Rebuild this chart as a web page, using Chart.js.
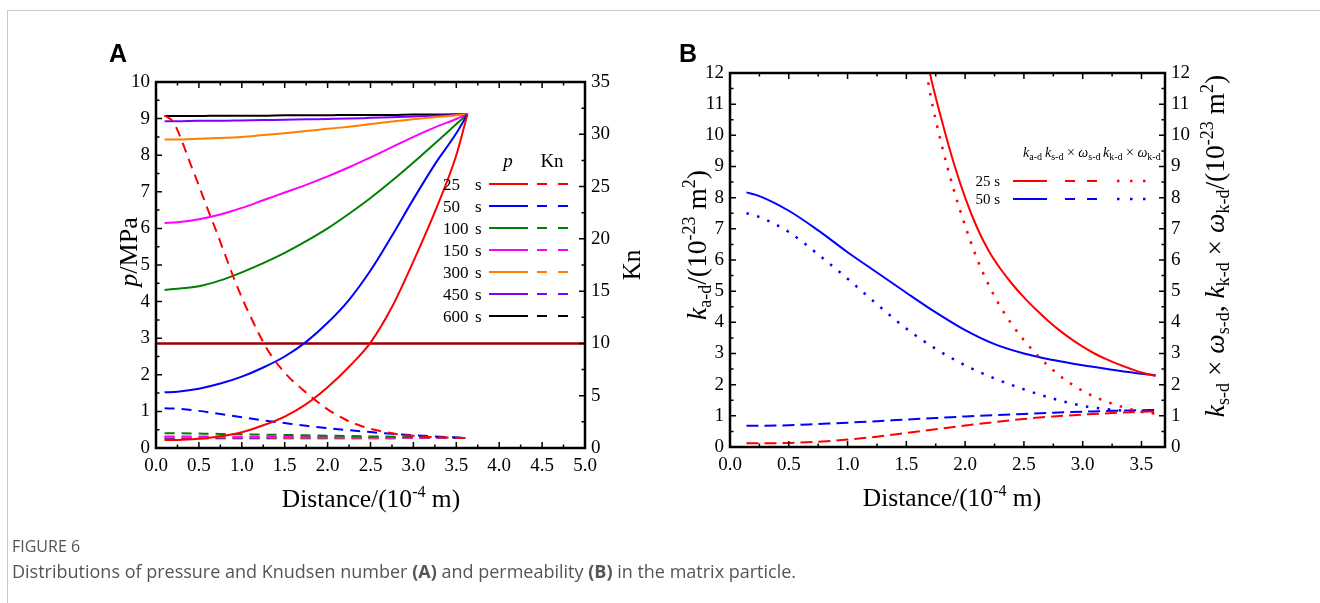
<!DOCTYPE html>
<html>
<head>
<meta charset="utf-8">
<script src="https://cdn.jsdelivr.net/npm/chart.js@4.4.0/dist/chart.umd.min.js"></script>
<style>
body { margin: 0; background: #fff; }
#page { position: relative; width: 1320px; height: 603px; overflow: hidden; background: #fff; }
#frame { position: absolute; left: 7px; top: 10px; width: 1320px; height: 600px; border-left: 1px solid #c8c8c8; border-top: 1px solid #c8c8c8; }
canvas { position: absolute; }
#chartA { left: 90px; top: 60px; }
#chartB { left: 660px; top: 50px; }
svg { position: absolute; left: 0; top: 0; }
.fig { position: absolute; left: 12px; font-family: "Open Sans", sans-serif; color: #555; white-space: nowrap; }
#figTitle { top: 535px; font-size: 16px; }
#figText { top: 559px; font-size: 18px; }
</style>
</head>
<body>
<div id="page">
  <div id="frame"></div>
  <canvas id="chartA" width="570" height="460"></canvas>
  <canvas id="chartB" width="590" height="470"></canvas>

  <svg width="1320" height="603" font-family="Liberation Serif" fill="#000">
    <text x="109" y="62" font-family="Liberation Sans" font-weight="bold" font-size="25">A</text>
    <text x="679" y="62" font-family="Liberation Sans" font-weight="bold" font-size="25">B</text>

    <!-- panel A titles -->
    <text x="371" y="507" text-anchor="middle" font-size="25.5">Distance/(10<tspan dy="-10" font-size="16">-4</tspan><tspan dy="10"> m)</tspan></text>
    <text transform="translate(137,252) rotate(-90)" text-anchor="middle" font-size="26"><tspan font-style="italic">p</tspan>/MPa</text>
    <text transform="translate(640,265) rotate(-90)" text-anchor="middle" font-size="25">Kn</text>

    <!-- panel A legend -->
    <g font-size="17">
      <text x="508" y="167" text-anchor="middle" font-size="19" font-style="italic">p</text>
      <text x="552" y="167" text-anchor="middle" font-size="19">Kn</text>
      <g id="legendA"></g>
    </g>

    <!-- panel B titles -->
    <text x="952" y="506" text-anchor="middle" font-size="25.5">Distance/(10<tspan dy="-10" font-size="16">-4</tspan><tspan dy="10"> m)</tspan></text>
    <text transform="translate(706,245) rotate(-90)" text-anchor="middle" font-size="27.5"><tspan font-style="italic">k</tspan><tspan font-size="18" dy="5">a-d</tspan><tspan dy="-5">/(10</tspan><tspan font-size="18" dy="-11">-23</tspan><tspan dy="11"> m</tspan><tspan font-size="18" dy="-11">2</tspan><tspan dy="11">)</tspan></text>
    <text transform="translate(1224,246) rotate(-90)" text-anchor="middle" font-size="27.5"><tspan font-style="italic">k</tspan><tspan font-size="18" dy="5">s-d</tspan><tspan dy="-5"> × </tspan><tspan font-style="italic">ω</tspan><tspan font-size="18" dy="5">s-d</tspan><tspan dy="-5">, </tspan><tspan font-style="italic">k</tspan><tspan font-size="18" dy="5">k-d</tspan><tspan dy="-5"> × </tspan><tspan font-style="italic">ω</tspan><tspan font-size="18" dy="5">k-d</tspan><tspan dy="-5">/(10</tspan><tspan font-size="18" dy="-11">-23</tspan><tspan dy="11"> m</tspan><tspan font-size="18" dy="-11">2</tspan><tspan dy="11">)</tspan></text>

    <!-- panel B legend -->
    <text x="1023" y="157" font-size="14"><tspan font-style="italic">k</tspan><tspan font-size="10" dy="3">a-d</tspan><tspan x="1045" dy="-3" font-style="italic">k</tspan><tspan font-size="10" dy="3">s-d</tspan><tspan dy="-3"> × </tspan><tspan font-style="italic">ω</tspan><tspan font-size="10" dy="3">s-d</tspan><tspan x="1103" dy="-3" font-style="italic">k</tspan><tspan font-size="10" dy="3">k-d</tspan><tspan dy="-3"> × </tspan><tspan font-style="italic">ω</tspan><tspan font-size="10" dy="3">k-d</tspan></text>
    <g id="legendB" font-size="15"></g>
  </svg>

  <div class="fig" id="figTitle">FIGURE 6</div>
  <div class="fig" id="figText">Distributions of pressure and Knudsen number <b>(A)</b> and permeability <b>(B)</b> in the matrix particle.</div>
</div>

<script>
// ---- panel A data (distance in 10^-4 m) ----
const distanceA = [0.1, 0.25, 0.5, 0.75, 1.0, 1.25, 1.5, 1.75, 2.0, 2.25, 2.5, 2.75, 3.0, 3.25, 3.5, 3.63];
const times = ['25', '50', '100', '150', '300', '450', '600'];

// pressure, MPa
const pressure25 = [0.22, 0.22, 0.25, 0.32, 0.43, 0.62, 0.86, 1.2, 1.66, 2.22, 2.88, 3.85, 5.1, 6.45, 8.0, 9.12];
const pressure50 = [1.52, 1.54, 1.62, 1.76, 1.95, 2.2, 2.5, 2.9, 3.42, 4.05, 4.85, 5.8, 6.8, 7.75, 8.6, 9.12];
const pressure100 = [4.32, 4.35, 4.42, 4.58, 4.8, 5.05, 5.33, 5.65, 6.0, 6.4, 6.83, 7.3, 7.8, 8.32, 8.85, 9.12];
const pressure150 = [6.15, 6.17, 6.25, 6.38, 6.56, 6.77, 6.98, 7.19, 7.42, 7.67, 7.94, 8.22, 8.5, 8.76, 8.99, 9.12];
const pressure300 = [8.43, 8.43, 8.45, 8.47, 8.5, 8.55, 8.6, 8.66, 8.72, 8.78, 8.85, 8.92, 8.98, 9.04, 9.09, 9.12];
const pressure450 = [8.93, 8.93, 8.94, 8.94, 8.95, 8.96, 8.97, 8.98, 8.99, 9.0, 9.02, 9.04, 9.06, 9.08, 9.1, 9.12];
const pressure600 = [9.07, 9.07, 9.07, 9.08, 9.08, 9.08, 9.09, 9.09, 9.09, 9.1, 9.1, 9.1, 9.11, 9.11, 9.12, 9.12];

// Knudsen number
const distanceKn25 = [0.1, 0.2, 0.3, 0.4, 0.5, 0.6, 0.7, 0.8, 0.9, 1.0, 1.1, 1.2, 1.3, 1.4, 1.5, 1.6, 1.7, 1.8, 1.9, 2.0, 2.2, 2.4, 2.6, 2.8, 3.0, 3.2, 3.4, 3.63];
const kn25 = [31.8, 31.2, 29.4, 27.2, 25.1, 22.9, 20.8, 18.6, 16.4, 14.4, 12.6, 10.9, 9.4, 8.2, 7.2, 6.35, 5.65, 4.95, 4.3, 3.7, 2.75, 2.08, 1.65, 1.34, 1.16, 1.06, 1.0, 0.95];
const kn50 = [3.8, 3.75, 3.55, 3.25, 2.95, 2.65, 2.38, 2.12, 1.9, 1.7, 1.52, 1.36, 1.22, 1.1, 1.0, 0.95];
const kn100 = [1.42, 1.41, 1.38, 1.35, 1.32, 1.28, 1.25, 1.21, 1.18, 1.14, 1.11, 1.08, 1.05, 1.02, 0.98, 0.95];
const kn150 = [1.1, 1.1, 1.09, 1.09, 1.08, 1.07, 1.06, 1.05, 1.04, 1.03, 1.02, 1.0, 0.99, 0.98, 0.96, 0.95];
const kn300 = [1.03, 1.03, 1.03, 1.02, 1.02, 1.02, 1.01, 1.01, 1.0, 1.0, 0.99, 0.98, 0.98, 0.97, 0.96, 0.95];
const kn450 = [0.98, 0.98, 0.98, 0.98, 0.98, 0.97, 0.97, 0.97, 0.97, 0.97, 0.96, 0.96, 0.96, 0.96, 0.95, 0.95];
const kn600 = [0.93, 0.93, 0.93, 0.93, 0.93, 0.93, 0.94, 0.94, 0.94, 0.94, 0.94, 0.94, 0.95, 0.95, 0.95, 0.95];
const knLimit = 10;

// ---- panel B data, permeability 10^-23 m^2 ----
const distanceB = [0.14, 0.25, 0.5, 0.75, 1.0, 1.25, 1.5, 1.75, 2.0, 2.25, 2.5, 2.75, 3.0, 3.25, 3.5, 3.62];
const kApp50 = [8.17, 8.05, 7.58, 6.95, 6.25, 5.6, 4.95, 4.32, 3.75, 3.3, 3.0, 2.79, 2.62, 2.48, 2.35, 2.3];
const kSlip50 = [0.68, 0.68, 0.7, 0.74, 0.78, 0.83, 0.88, 0.93, 0.98, 1.02, 1.06, 1.1, 1.13, 1.16, 1.18, 1.19];
const kKnud50 = [7.5, 7.38, 6.9, 6.18, 5.4, 4.58, 3.8, 3.15, 2.62, 2.2, 1.85, 1.55, 1.32, 1.2, 1.13, 1.1];
const kSlip25 = [0.12, 0.12, 0.13, 0.17, 0.24, 0.33, 0.45, 0.57, 0.69, 0.8, 0.9, 0.98, 1.04, 1.09, 1.13, 1.15];
const distanceB25 = [1.6, 1.7, 1.8, 1.9, 2.0, 2.1, 2.2, 2.3, 2.4, 2.5, 2.6, 2.7, 2.8, 2.9, 3.0, 3.1, 3.2, 3.3, 3.4, 3.5, 3.62];
const kApp25 = [14.0, 12.0, 10.5, 9.15, 8.0, 7.05, 6.3, 5.72, 5.23, 4.8, 4.42, 4.07, 3.75, 3.47, 3.22, 3.0, 2.82, 2.66, 2.52, 2.39, 2.28];
const kKnud25 = [13.8, 11.4, 9.7, 8.3, 7.1, 6.05, 5.2, 4.5, 3.92, 3.43, 3.0, 2.63, 2.3, 2.03, 1.8, 1.61, 1.46, 1.33, 1.22, 1.13, 1.07];

const colors = ['#ff0000', '#0000ff', '#008000', '#ff00ff', '#ff8000', '#8000ff', '#000000'];

function pts(xs, ys) {
    return xs.map((x, i) => ({ x: x, y: ys[i] }));
}

// frame box and inward tick marks on all four sides
const frameTicks = {
    id: 'frameTicks',
    afterDatasetsDraw(chart, args, opts) {
        const ctx = chart.ctx;
        const a = chart.chartArea;
        ctx.save();
        ctx.strokeStyle = '#000';
        ctx.lineWidth = 1.5;
        for (const m of opts.marks) {
            const s = chart.scales[m.scale];
            const n = Math.floor((s.max - s.min) / m.minor + 1e-9);
            const every = Math.round(m.major / m.minor);
            ctx.beginPath();
            for (let i = 0; i <= n; i++) {
                const p = s.getPixelForValue(s.min + i * m.minor);
                const len = i % every === 0 ? 6 : 3.5;
                for (const e of m.edges) {
                    if (e === 'bottom') { ctx.moveTo(p, a.bottom); ctx.lineTo(p, a.bottom - len); }
                    if (e === 'top') { ctx.moveTo(p, a.top); ctx.lineTo(p, a.top + len); }
                    if (e === 'left') { ctx.moveTo(a.left, p); ctx.lineTo(a.left + len, p); }
                    if (e === 'right') { ctx.moveTo(a.right, p); ctx.lineTo(a.right - len, p); }
                }
            }
            ctx.stroke();
        }
        ctx.lineWidth = 2.5;
        ctx.strokeRect(a.left, a.top, a.right - a.left, a.bottom - a.top);
        ctx.restore();
    }
};

Chart.defaults.font.family = 'Liberation Serif';
Chart.defaults.color = '#000';

function axis(opts) {
    return Object.assign({
        type: 'linear',
        grid: { display: false, drawTicks: false },
        border: { display: false }
    }, opts);
}

function tickOpts(step, padding, fmt) {
    let t = { font: { size: 19 }, color: '#000', padding: padding, stepSize: step, includeBounds: false };
    if (fmt) t.callback = fmt;
    return t;
}

function line(label, data, color, yAxisID, dash, width) {
    return {
        label: label,
        data: data,
        borderColor: color,
        borderWidth: width || 2,
        borderDash: dash || [],
        pointRadius: 0,
        cubicInterpolationMode: 'monotone',
        yAxisID: yAxisID
    };
}

function initPanelA() {
    const pressure = [pressure25, pressure50, pressure100, pressure150, pressure300, pressure450, pressure600];
    const kn = [null, kn50, kn100, kn150, kn300, kn450, kn600];
    let datasets = [];
    for (let i = 0; i < times.length; i++) {
        datasets.push(line(times[i] + ' s p', pts(distanceA, pressure[i]), colors[i], 'y'));
        const knData = i === 0 ? pts(distanceKn25, kn25) : pts(distanceA, kn[i]);
        datasets.push(line(times[i] + ' s Kn', knData, colors[i], 'y2', [10, 7]));
    }
    datasets.push(line('Kn = 10', [{ x: 0, y: knLimit }, { x: 5, y: knLimit }], '#990000', 'y2', [], 2.5));

    new Chart(document.getElementById('chartA'), {
        type: 'line',
        data: { datasets: datasets },
        options: {
            responsive: false,
            animation: false,
            devicePixelRatio: 1,
            layout: { padding: { top: 22, left: 0, right: 0, bottom: 0 } },
            plugins: {
                legend: { display: false },
                tooltip: { enabled: false },
                frameTicks: { marks: [
                    { scale: 'x', edges: ['bottom', 'top'], major: 0.5, minor: 0.25 },
                    { scale: 'y', edges: ['left'], major: 1, minor: 0.5 },
                    { scale: 'y2', edges: ['right'], major: 5, minor: 2.5 }
                ] }
            },
            scales: {
                x: axis({ min: 0, max: 5, position: 'bottom', ticks: tickOpts(0.5, 7, v => v.toFixed(1)),
                    afterFit: s => { s.height = 72; } }),
                y: axis({ min: 0, max: 10, position: 'left', ticks: tickOpts(1, 6),
                    afterFit: s => { s.width = 66; } }),
                y2: axis({ min: 0, max: 35, position: 'right', ticks: tickOpts(5, 6),
                    afterFit: s => { s.width = 75; } })
            }
        },
        plugins: [frameTicks]
    });
}

function initPanelB() {
    const datasets = [
        line('25 s ka-d', pts(distanceB25, kApp25), colors[0], 'y'),
        line('25 s ks-d', pts(distanceB, kSlip25), colors[0], 'y', [12, 6]),
        line('25 s kk-d', pts(distanceB25, kKnud25), colors[0], 'y', [2.5, 8.5], 2.5),
        line('50 s ka-d', pts(distanceB, kApp50), colors[1], 'y'),
        line('50 s ks-d', pts(distanceB, kSlip50), colors[1], 'y', [12, 6]),
        line('50 s kk-d', pts(distanceB, kKnud50), colors[1], 'y', [2.5, 8.5], 2.5)
    ];

    new Chart(document.getElementById('chartB'), {
        type: 'line',
        data: { datasets: datasets },
        options: {
            responsive: false,
            animation: false,
            devicePixelRatio: 1,
            layout: { padding: { top: 23, left: 0, right: 0, bottom: 0 } },
            plugins: {
                legend: { display: false },
                tooltip: { enabled: false },
                frameTicks: { marks: [
                    { scale: 'x', edges: ['bottom', 'top'], major: 0.5, minor: 0.25 },
                    { scale: 'y', edges: ['left'], major: 1, minor: 0.5 },
                    { scale: 'y2', edges: ['right'], major: 1, minor: 0.5 }
                ] }
            },
            scales: {
                x: axis({ min: 0, max: 3.7, position: 'bottom', ticks: tickOpts(0.5, 7, v => v.toFixed(1)),
                    afterFit: s => { s.height = 73; } }),
                y: axis({ min: 0, max: 12, position: 'left', ticks: tickOpts(1, 6),
                    afterFit: s => { s.width = 70; } }),
                y2: axis({ min: 0, max: 12, position: 'right', ticks: tickOpts(1, 6),
                    afterFit: s => { s.width = 85; } })
            }
        },
        plugins: [frameTicks]
    });
}

// legend samples (svg)
function svgEl(tag, attrs, text) {
    const el = document.createElementNS('http://www.w3.org/2000/svg', tag);
    for (const k in attrs) el.setAttribute(k, attrs[k]);
    if (text) el.textContent = text;
    return el;
}

function buildLegends() {
    const gA = document.getElementById('legendA');
    for (let i = 0; i < times.length; i++) {
        const y = 184 + i * 22;
        gA.appendChild(svgEl('text', { x: 443, y: y + 6 }, times[i]));
        gA.appendChild(svgEl('text', { x: 475, y: y + 6 }, 's'));
        gA.appendChild(svgEl('line', { x1: 489, y1: y, x2: 528, y2: y, stroke: colors[i], 'stroke-width': 2 }));
        gA.appendChild(svgEl('line', { x1: 537, y1: y, x2: 569, y2: y, stroke: colors[i], 'stroke-width': 2, 'stroke-dasharray': '10 11' }));
    }
    const gB = document.getElementById('legendB');
    ['25', '50'].forEach((t, i) => {
        const y = 181 + i * 18;
        gB.appendChild(svgEl('text', { x: 1000, y: y + 5, 'text-anchor': 'end' }, t + ' s'));
        gB.appendChild(svgEl('line', { x1: 1013, y1: y, x2: 1047, y2: y, stroke: colors[i], 'stroke-width': 2 }));
        gB.appendChild(svgEl('line', { x1: 1065, y1: y, x2: 1098, y2: y, stroke: colors[i], 'stroke-width': 2, 'stroke-dasharray': '10 12' }));
        gB.appendChild(svgEl('line', { x1: 1117, y1: y, x2: 1146, y2: y, stroke: colors[i], 'stroke-width': 2.5, 'stroke-dasharray': '2.5 10.5' }));
    });
}

window.addEventListener('load', function () {
    initPanelA();
    initPanelB();
    buildLegends();
});
</script>
</body>
</html>
